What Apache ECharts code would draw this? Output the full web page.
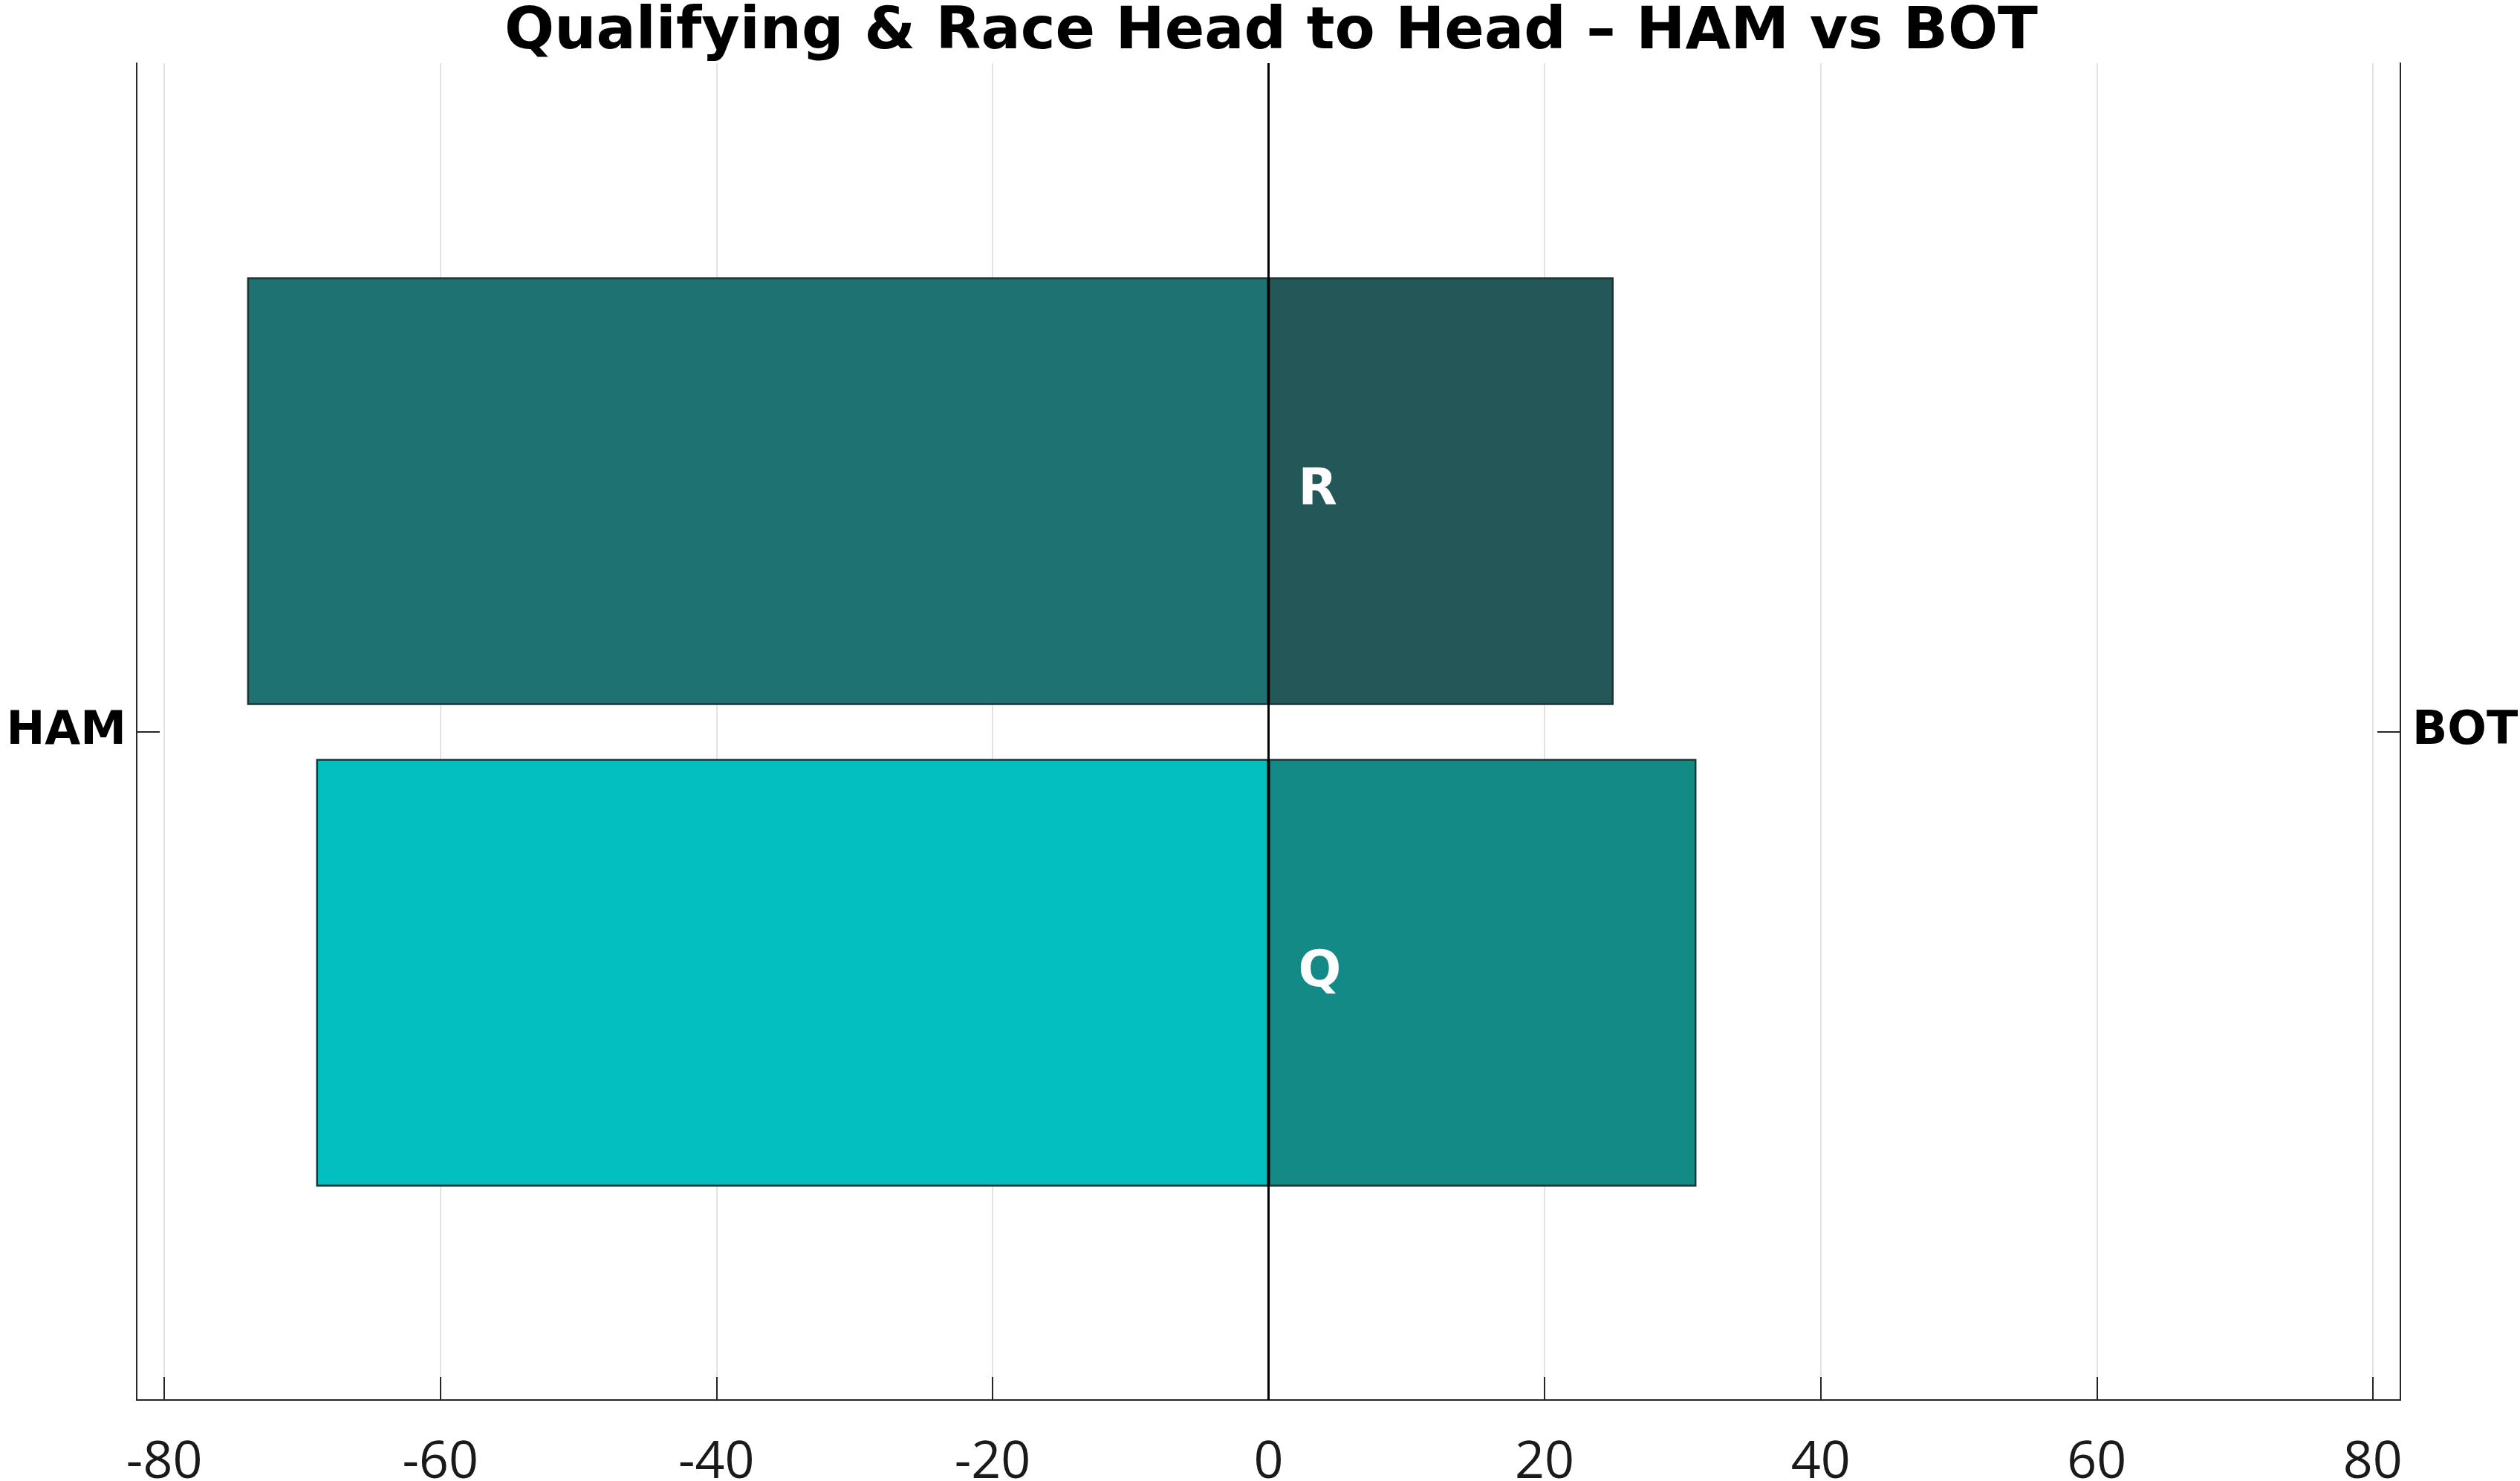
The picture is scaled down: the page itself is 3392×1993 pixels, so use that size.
<!DOCTYPE html>
<html>
<head>
<meta charset="utf-8">
<title>Qualifying & Race Head to Head</title>
<script src="https://cdn.jsdelivr.net/npm/echarts@6/dist/echarts.min.js"></script>
<style>
  html, body { margin: 0; padding: 0; background: #fff; }
  #main { width: 3392px; height: 1993px; }
</style>
</head>
<body>
<div id="main"></div>
<script type="text/javascript">
// data
var sessions = ['Q', 'R'];          // bottom to top
var drivers = ['HAM', 'BOT'];       // left side, right side
var hamValues = [-69, -74];         // HAM ahead (drawn to the left)
var botValues = [31, 25];           // BOT ahead (drawn to the right)
var xTicks = [-80, -60, -40, -20, 0, 20, 40, 60, 80];

var hamColors = ['#04bfbf', '#1e7272'];
var botColors = ['#148a87', '#245858'];

var boldFont = 'DejaVu Sans';
var axisFont = 'Open Sans';

function coloured(values, colors) {
    return values.map(function (v, i) {
        return { value: v, itemStyle: { color: colors[i] } };
    });
}

var chart = echarts.init(document.getElementById('main'), null, { renderer: 'canvas' });

var option = {
    backgroundColor: '#ffffff',
    animation: false,
    title: {
        text: 'Qualifying & Race Head to Head \u2013 ' + drivers[0] + ' vs ' + drivers[1],
        left: 1706,
        textAlign: 'center',
        top: 0,
        textStyle: {
            fontFamily: boldFont,
            fontWeight: 'bold',
            fontSize: 79,
            color: '#000'
        }
    },
    grid: [
        // frame: axes, ticks, grid lines
        { left: 184, right: 161, top: 85, bottom: 109, outerBoundsMode: 'none', containLabel: false },
        // bars
        { left: 184, right: 161, top: 337, bottom: 360, outerBoundsMode: 'none', containLabel: false }
    ],
    xAxis: [
        {
            gridIndex: 0,
            type: 'value',
            min: -82,
            max: 82,
            axisLine: { show: true, onZero: false, lineStyle: { color: '#262626', width: 2 } },
            axisTick: {
                show: true, inside: true, length: 31, customValues: xTicks,
                lineStyle: { color: '#262626', width: 2 }
            },
            axisLabel: {
                show: true, customValues: xTicks, margin: 50,
                fontFamily: axisFont, fontSize: 70, color: '#1a1a1a'
            },
            splitLine: { show: true, lineStyle: { color: '#e3e3e3', width: 2 } }
        },
        {
            gridIndex: 1,
            type: 'value',
            min: -82,
            max: 82,
            show: false,
            splitLine: { show: false }
        }
    ],
    yAxis: [
        {
            gridIndex: 0,
            type: 'value',
            position: 'left',
            min: 0,
            max: 2,
            axisLine: { show: true, onZero: false, lineStyle: { color: '#262626', width: 2 } },
            axisTick: {
                show: true, inside: true, length: 31, customValues: [1],
                lineStyle: { color: '#262626', width: 2 }
            },
            axisLabel: {
                show: true, customValues: [1], margin: 14,
                formatter: function () { return drivers[0]; },
                fontFamily: boldFont, fontWeight: 'bold', fontSize: 62, color: '#000'
            },
            splitLine: { show: false }
        },
        {
            gridIndex: 0,
            type: 'value',
            position: 'right',
            min: 0,
            max: 2,
            axisLine: { show: true, onZero: false, lineStyle: { color: '#262626', width: 2 } },
            axisTick: {
                show: true, inside: true, length: 31, customValues: [1],
                lineStyle: { color: '#262626', width: 2 }
            },
            axisLabel: {
                show: true, customValues: [1], margin: 16,
                formatter: function () { return drivers[1]; },
                fontFamily: boldFont, fontWeight: 'bold', fontSize: 62, color: '#000'
            },
            splitLine: { show: false }
        },
        {
            gridIndex: 1,
            type: 'category',
            data: sessions,
            show: false
        }
    ],
    series: [
        {
            name: drivers[0],
            type: 'bar',
            xAxisIndex: 1,
            yAxisIndex: 2,
            barWidth: '88.8%',
            barGap: '-100%',
            data: coloured(hamValues, hamColors),
            itemStyle: { borderColor: '#1b3535', borderWidth: 2.5 },
            z: 3
        },
        {
            name: drivers[1],
            type: 'bar',
            xAxisIndex: 1,
            yAxisIndex: 2,
            barWidth: '88.8%',
            barGap: '-100%',
            data: coloured(botValues, botColors),
            itemStyle: { borderColor: '#1b3535', borderWidth: 2.5 },
            label: {
                show: true,
                formatter: '{b}',
                position: [40, '50%'],
                align: 'left',
                verticalAlign: 'middle',
                fontFamily: boldFont,
                fontWeight: 'bold',
                fontSize: 68,
                color: '#ffffff'
            },
            z: 3
        },
        {
            // zero line, over the bars
            type: 'line',
            xAxisIndex: 0,
            yAxisIndex: 0,
            data: [[0, 1]],
            showSymbol: false,
            symbol: 'none',
            silent: true,
            z: 10,
            markLine: {
                silent: true,
                symbol: 'none',
                label: { show: false },
                lineStyle: { color: '#000', width: 3, type: 'solid' },
                data: [{ xAxis: 0 }],
                z: 10
            }
        }
    ]
};

chart.setOption(option);
</script>
</body>
</html>
